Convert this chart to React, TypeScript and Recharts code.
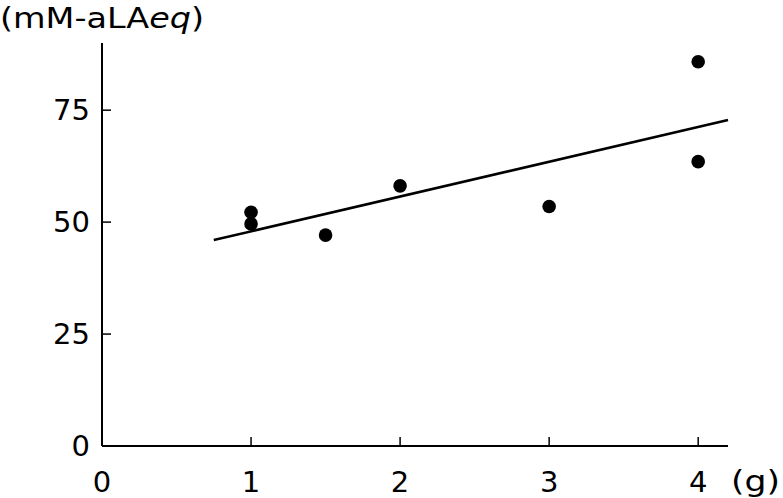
import { ScatterChart, Scatter, XAxis, YAxis, Label } from "recharts";

// dose (g) vs. measured concentration (mM-aLAeq)
const doseG = [1, 1, 1.5, 2, 3, 4, 4];
const concentration = [52.2, 49.6, 47.1, 58.1, 53.5, 85.8, 63.5];

// regression line end points, as drawn
const fitX = [0.75, 4.2];
const fitY = [46.0, 72.8];

const xTicks = [0, 1, 2, 3, 4];
const yTicks = [0, 25, 50, 75];

const points = doseG.map((x, i) => ({ x, y: concentration[i] }));
const fitLine = fitX.map((x, i) => ({ x, y: fitY[i] }));

const FONT = "'DejaVu Sans', Verdana, sans-serif";
const tickStyle = { fill: "#000", fontSize: 29, fontFamily: FONT };

const Dot = (props: any) => (
  <circle cx={props.cx} cy={props.cy} r={6.8} fill="#000" />
);

export default function App() {
  return (
    <div style={{ position: "absolute", left: 0, top: 0, background: "#fff" }}>
      <ScatterChart
        width={783}
        height={498}
        margin={{ top: 43, right: 55, bottom: 22, left: 42 }}
      >
        <XAxis
          type="number"
          dataKey="x"
          domain={[0, 4.2]}
          ticks={xTicks}
          tick={tickStyle}
          tickSize={-9}
          tickMargin={34}
          height={30}
          axisLine={{ stroke: "#000", strokeWidth: 2 }}
          tickLine={{ stroke: "#000", strokeWidth: 1.5 }}
        >
          <Label
            content={() => (
              <text
                x={731}
                y={491}
                fill="#000"
                fontSize={29}
                fontFamily={FONT}
                textLength={49}
                lengthAdjust="spacingAndGlyphs"
              >
                (g)
              </text>
            )}
          />
        </XAxis>
        <YAxis
          type="number"
          dataKey="y"
          domain={[0, 90]}
          ticks={yTicks}
          tick={tickStyle}
          tickSize={-9}
          tickMargin={21}
          width={60}
          axisLine={{ stroke: "#000", strokeWidth: 2 }}
          tickLine={{ stroke: "#000", strokeWidth: 1.5 }}
        >
          <Label
            content={() => (
              <text
                x={0}
                y={28}
                fill="#000"
                fontSize={29}
                fontFamily={FONT}
                textLength={204}
                lengthAdjust="spacingAndGlyphs"
              >
                (mM-aLA<tspan fontStyle="italic">eq</tspan>)
              </text>
            )}
          />
        </YAxis>
        <Scatter
          data={fitLine}
          line={{ stroke: "#000", strokeWidth: 2.5 }}
          shape={() => <g />}
          isAnimationActive={false}
        />
        <Scatter data={points} shape={Dot} isAnimationActive={false} />
      </ScatterChart>
    </div>
  );
}
